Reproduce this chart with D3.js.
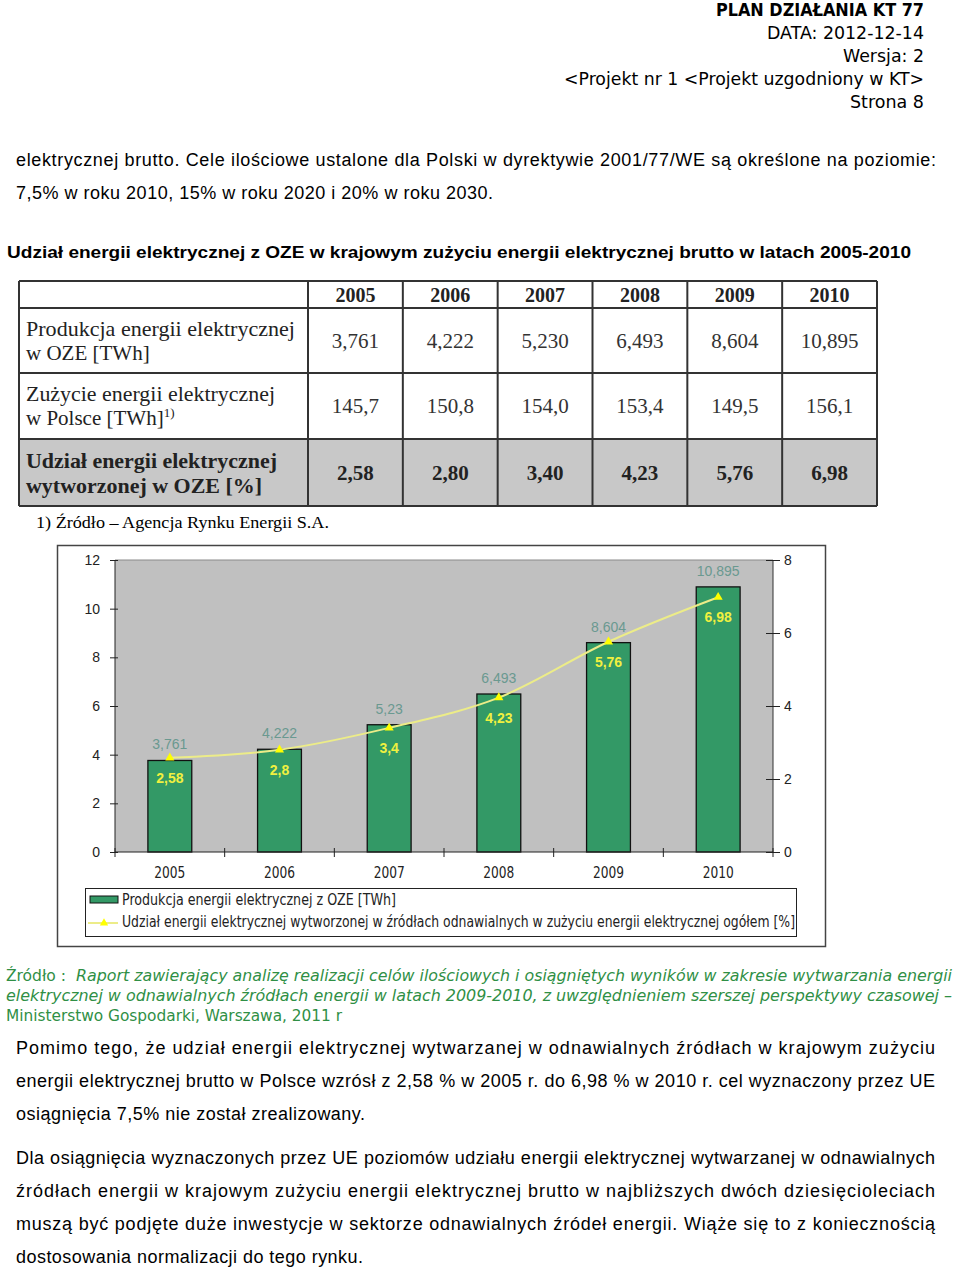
<!DOCTYPE html>
<html><head><meta charset="utf-8">
<script src="https://cdn.jsdelivr.net/npm/d3@7"></script>
<style>body{margin:0;background:#fff}svg{display:block}</style>
</head><body>
<svg id="c" width="960" height="1267"></svg>
<script>
// ---------- data ----------
const years = ["2005","2006","2007","2008","2009","2010"];
const production = [3.761, 4.222, 5.230, 6.493, 8.604, 10.895];   // TWh
const consumption = [145.7, 150.8, 154.0, 153.4, 149.5, 156.1];    // TWh
const share = [2.58, 2.80, 3.40, 4.23, 5.76, 6.98];                // %
const leftTicks = [0, 2, 4, 6, 8, 10, 12];
const rightTicks = [0, 2, 4, 6, 8];

const loc = d3.formatLocale({decimal: ",", thousands: " ", grouping: [3], currency: ["", ""]});
const f3 = loc.format(".3f"), f1 = loc.format(".1f"), f2 = loc.format(".2f"), ft = loc.format("~r");

const svg = d3.select("#c");
function T(g, x, y, s, o) {
  const t = g.append("text").attr("x", x).attr("y", y).text(s);
  for (const k in (o || {})) t.attr(k, o[k]);
  return t;
}
const SANS = "'Liberation Sans', Arial, sans-serif";
const SERIF = "'Liberation Serif', 'Times New Roman', serif";
const NARROW = "'Liberation Sans Narrow', 'DejaVu Sans Condensed', 'Liberation Sans', sans-serif";
const GOTH = "'DejaVu Sans', 'Liberation Sans', sans-serif";

// ---------- header ----------
const hd = svg.append("g").attr("font-family", GOTH).attr("fill", "#000").attr("text-anchor", "end");
T(hd, 924, 16, "PLAN DZIAŁANIA  KT 77", {"font-size": 18, "font-weight": "bold", textLength: 208, lengthAdjust: "spacingAndGlyphs"});
T(hd, 924, 39, "DATA: 2012-12-14", {"font-size": 18, textLength: 157, lengthAdjust: "spacingAndGlyphs"});
T(hd, 924, 62, "Wersja: 2", {"font-size": 18, textLength: 81, lengthAdjust: "spacingAndGlyphs"});
T(hd, 924, 85, "<Projekt nr 1 <Projekt uzgodniony w KT>", {"font-size": 18, textLength: 360, lengthAdjust: "spacingAndGlyphs"});
T(hd, 924, 108, "Strona 8", {"font-size": 18, textLength: 74, lengthAdjust: "spacingAndGlyphs"});

// ---------- body text above ----------
const bt = svg.append("g").attr("font-family", SANS).attr("font-size", 18).attr("fill", "#000");
T(bt, 16, 166, "elektrycznej brutto. Cele ilościowe ustalone dla Polski w dyrektywie 2001/77/WE są określone na poziomie:", {textLength: 920, lengthAdjust: "spacing"});
T(bt, 16, 199, "7,5% w roku 2010, 15% w roku 2020 i 20% w roku 2030.", {textLength: 477, lengthAdjust: "spacing"});
T(bt, 7, 258, "Udział energii elektrycznej z OZE w krajowym zużyciu energii elektrycznej brutto w latach 2005-2010", {"font-weight": "bold", "font-size": 17, textLength: 904, lengthAdjust: "spacingAndGlyphs"});

// ---------- table ----------
const tb = svg.append("g").attr("font-family", SERIF).attr("fill", "#222");
const colX = d3.scaleBand().domain(years).range([308, 877]);
const rowY = [281, 308, 373, 439, 506];
const tL = 19, tR = 877;
tb.append("rect").attr("x", tL).attr("y", rowY[3]).attr("width", tR - tL).attr("height", rowY[4] - rowY[3]).attr("fill", "#c8c8c8");
const lines = tb.append("g").attr("stroke", "#333").attr("stroke-width", 2);
rowY.forEach(y => lines.append("line").attr("x1", tL).attr("x2", tR).attr("y1", y).attr("y2", y));
[tL, 308].concat(years.map(y => colX(y) + colX.bandwidth())).forEach(x =>
  lines.append("line").attr("x1", x).attr("x2", x).attr("y1", rowY[0]).attr("y2", rowY[4]));
years.forEach((yr, i) => {
  const cx = colX(yr) + colX.bandwidth() / 2;
  T(tb, cx, 302, yr, {"text-anchor": "middle", "font-size": 20, "font-weight": "bold"});
  T(tb, cx, 348, f3(production[i]), {"text-anchor": "middle", "font-size": 21, fill: "#333"});
  T(tb, cx, 413, f1(consumption[i]), {"text-anchor": "middle", "font-size": 21, fill: "#333"});
  T(tb, cx, 480, f2(share[i]), {"text-anchor": "middle", "font-size": 21, "font-weight": "bold"});
});
T(tb, 26, 336, "Produkcja energii elektrycznej", {"font-size": 21, textLength: 269, lengthAdjust: "spacingAndGlyphs"});
T(tb, 26, 360, "w OZE [TWh]", {"font-size": 21});
T(tb, 26, 401, "Zużycie energii elektrycznej", {"font-size": 21, textLength: 249, lengthAdjust: "spacingAndGlyphs"});
const t2 = T(tb, 26, 425, "w Polsce [TWh]", {"font-size": 21});
t2.append("tspan").attr("font-size", 13).attr("dy", -8).text("1)");
T(tb, 26, 468, "Udział energii elektrycznej", {"font-size": 21, "font-weight": "bold", textLength: 251, lengthAdjust: "spacingAndGlyphs"});
T(tb, 26, 493, "wytworzonej w OZE [%]", {"font-size": 21, "font-weight": "bold", textLength: 236, lengthAdjust: "spacingAndGlyphs"});
T(svg, 36, 528, "1) Źródło – Agencja Rynku Energii S.A.", {"font-family": SERIF, "font-size": 17, fill: "#000", textLength: 293, lengthAdjust: "spacingAndGlyphs"});

// ---------- chart ----------
const ch = svg.append("g").attr("font-family", SANS);
ch.append("rect").attr("x", 57.5).attr("y", 545.5).attr("width", 768).attr("height", 401).attr("fill", "#fff").attr("stroke", "#444").attr("stroke-width", 1.5);
const pL = 115, pR = 773, pT = 560, pB = 852;
const x = d3.scaleBand().domain(years).range([pL, pR]).paddingInner(0.6).paddingOuter(0.3);
const yL = d3.scaleLinear().domain([0, 12]).range([pB, pT]);
const yR = d3.scaleLinear().domain([0, 8]).range([pB, pT]);
ch.append("rect").attr("x", pL).attr("y", pT).attr("width", pR - pL).attr("height", pB - pT).attr("fill", "#c0c0c0");
ch.append("line").attr("x1", pL).attr("x2", pR).attr("y1", pT).attr("y2", pT).attr("stroke", "#8a8a8a");

// left axis
const ax = ch.append("g").attr("transform", `translate(${pL},0)`)
  .call(d3.axisLeft(yL).tickValues(leftTicks).tickFormat(d3.format("d")).tickSize(5).tickPadding(10));
ax.select(".domain").attr("stroke", "#222").attr("d", `M0,${pT}V${pB}`);
ax.selectAll(".tick line").attr("x1", 3).attr("stroke", "#222");
ax.selectAll(".tick text").attr("font-family", SANS).attr("font-size", 14).attr("fill", "#222");
// right axis
const axr = ch.append("g").attr("transform", `translate(${pR},0)`)
  .call(d3.axisRight(yR).tickValues(rightTicks).tickFormat(d3.format("d")).tickSize(7).tickPadding(4));
axr.select(".domain").attr("stroke", "#333").attr("d", `M0,${pT}V${pB}`);
axr.selectAll(".tick line").attr("x1", -7).attr("stroke", "#222");
axr.selectAll(".tick text").attr("font-family", SANS).attr("font-size", 14).attr("fill", "#222");

// bars
ch.selectAll(".bar").data(years).join("rect").attr("class", "bar")
  .attr("x", d => x(d)).attr("width", x.bandwidth())
  .attr("y", (d, i) => yL(production[i])).attr("height", (d, i) => yL(0) - yL(production[i]))
  .attr("fill", "#339966").attr("stroke", "#111").attr("stroke-width", 1.3);

// bottom axis
ch.append("line").attr("x1", pL).attr("x2", pR).attr("y1", pB).attr("y2", pB).attr("stroke", "#222").attr("stroke-width", 1.2);
d3.range(years.length + 1).forEach(i => {
  const xx = pL + i * x.step();
  ch.append("line").attr("x1", xx).attr("x2", xx).attr("y1", pB - 4).attr("y2", pB + 5).attr("stroke", "#222");
});
years.forEach(yr => T(ch, x(yr) + x.bandwidth() / 2, 878, yr, {"text-anchor": "middle", "font-family": NARROW, "font-size": 15.5, fill: "#222", textLength: 31, lengthAdjust: "spacingAndGlyphs"}));

// line
const cx = (d, i) => x(years[i]) + x.bandwidth() / 2;
const line = d3.line().x(cx).y(d => yR(d)).curve(d3.curveMonotoneX);
ch.append("path").datum(share).attr("d", line).attr("fill", "none").attr("stroke", "#ecec88").attr("stroke-width", 2);
ch.selectAll(".mk").data(share).join("path").attr("class", "mk")
  .attr("transform", (d, i) => `translate(${cx(d, i)},${yR(d)})`)
  .attr("d", d3.symbol(d3.symbolTriangle, 36)).attr("fill", "#ffff00");

// labels
production.forEach((v, i) => T(ch, cx(v, i), yL(v) - 11, ft(v), {"text-anchor": "middle", "font-size": 14, fill: "#6a9990"}));
share.forEach((v, i) => T(ch, cx(v, i), yR(v) + 25, ft(v), {"text-anchor": "middle", "font-size": 14, "font-weight": "bold", fill: "#f0f040"}));

// legend
const lg = ch.append("g");
lg.append("rect").attr("x", 85.5).attr("y", 888.5).attr("width", 711).attr("height", 48).attr("fill", "#fff").attr("stroke", "#222");
lg.append("rect").attr("x", 90).attr("y", 896).attr("width", 28).attr("height", 7).attr("fill", "#339966").attr("stroke", "#111");
T(lg, 122, 905, "Produkcja energii elektrycznej z OZE [TWh]", {"font-family": NARROW, "font-size": 15, fill: "#222", textLength: 274, lengthAdjust: "spacingAndGlyphs"});
lg.append("line").attr("x1", 88).attr("x2", 118).attr("y1", 923).attr("y2", 923).attr("stroke", "#ecec88").attr("stroke-width", 2);
lg.append("path").attr("transform", "translate(104,923)").attr("d", d3.symbol(d3.symbolTriangle, 30)).attr("fill", "#ffff00");
T(lg, 122, 927, "Udział energii elektrycznej wytworzonej w źródłach odnawialnych w zużyciu energii elektrycznej ogółem [%]", {"font-family": NARROW, "font-size": 15, fill: "#222", textLength: 673, lengthAdjust: "spacingAndGlyphs"});

// ---------- source ----------
const src = svg.append("g").attr("font-family", NARROW).attr("font-size", 16).attr("fill", "#2f8f45");
T(src, 6, 981, "Źródło :", {textLength: 60, lengthAdjust: "spacingAndGlyphs"});
T(src, 76, 981, "Raport zawierający analizę realizacji celów ilościowych i osiągniętych wyników w zakresie wytwarzania energii", {"font-style": "italic", textLength: 876, lengthAdjust: "spacingAndGlyphs"});
T(src, 6, 1001, "elektrycznej w odnawialnych źródłach energii w latach 2009-2010, z uwzględnieniem szerszej perspektywy czasowej –", {"font-style": "italic", textLength: 946, lengthAdjust: "spacingAndGlyphs"});
T(src, 6, 1021, "Ministerstwo Gospodarki, Warszawa, 2011 r", {textLength: 336, lengthAdjust: "spacingAndGlyphs"});

// ---------- paragraphs ----------
const pg = svg.append("g").attr("font-family", SANS).attr("font-size", 18).attr("fill", "#000");
const para = [
  [1054, "Pomimo tego, że udział energii elektrycznej wytwarzanej w odnawialnych źródłach w krajowym zużyciu", 919],
  [1087, "energii elektrycznej brutto w Polsce wzrósł z 2,58 % w 2005 r. do 6,98 % w 2010 r. cel wyznaczony przez UE", 919],
  [1120, "osiągnięcia 7,5% nie został zrealizowany.", 349],
  [1164, "Dla osiągnięcia wyznaczonych przez UE poziomów udziału energii elektrycznej wytwarzanej w odnawialnych", 919],
  [1197, "źródłach energii w krajowym zużyciu energii elektrycznej brutto w najbliższych dwóch dziesięcioleciach", 919],
  [1230, "muszą być podjęte duże inwestycje w sektorze odnawialnych źródeł energii. Wiąże się to z koniecznością", 919],
  [1263, "dostosowania normalizacji do tego rynku.", 347]
];
para.forEach(p => T(pg, 16, p[0], p[1], {textLength: p[2], lengthAdjust: "spacing"}));
</script>
</body></html>
